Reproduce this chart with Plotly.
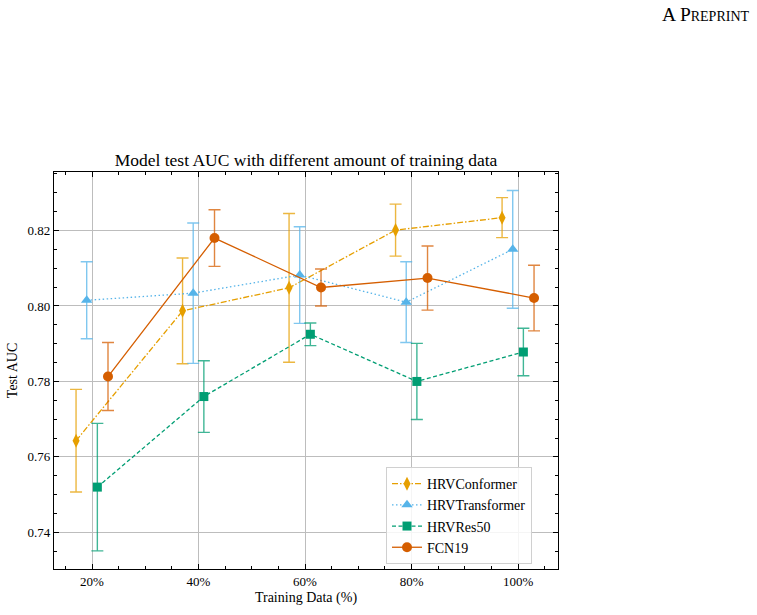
import plotly.graph_objects as go

training_pct = [20, 40, 60, 80, 100]
tick_vals = [20, 40, 60, 80, 100]
tick_text = ["20%", "40%", "60%", "80%", "100%"]

series_names = ["HRVConformer", "HRVTransformer", "HRVRes50", "FCN19"]
conformer_auc = [0.7643, 0.7987, 0.8048, 0.8201, 0.8234]
conformer_err = [0.0136, 0.0140, 0.0197, 0.0069, 0.0053]
transformer_auc = [0.8015, 0.8034, 0.8082, 0.8010, 0.8150]
transformer_err = [0.0102, 0.0186, 0.0128, 0.0107, 0.0156]
res50_auc = [0.7520, 0.7760, 0.7925, 0.7800, 0.7878]
res50_err = [0.0169, 0.0095, 0.0030, 0.0101, 0.0063]
fcn19_auc = [0.7813, 0.8180, 0.8049, 0.8074, 0.8021]
fcn19_err = [0.0090, 0.0075, 0.0049, 0.0085, 0.0087]

FONT = "Liberation Serif"

styles = [
    dict(color="#E69F00", err="rgba(230,159,0,0.75)", dash="6px,2px,1.5px,2px", symbol="diamond-tall", off=-3, size=10),
    dict(color="#56B4E9", err="rgba(86,180,233,0.75)", dash="1.5px,2.5px", symbol="triangle-up", off=-1, size=10),
    dict(color="#009E73", err="rgba(0,158,115,0.75)", dash="4px,2.5px", symbol="square", off=1, size=9),
    dict(color="#D55E00", err="rgba(213,94,0,0.75)", dash="solid", symbol="circle", off=3, size=10),
]
values = [conformer_auc, transformer_auc, res50_auc, fcn19_auc]
errors = [conformer_err, transformer_err, res50_err, fcn19_err]

fig = go.Figure()
for name, st, vals, errs in zip(series_names, styles, values, errors):
    fig.add_trace(go.Scatter(
        x=[p + st["off"] for p in training_pct],
        y=vals,
        name=name,
        mode="lines+markers",
        line=dict(color=st["color"], width=1.3, dash=st["dash"]),
        marker=dict(color=st["color"], symbol=st["symbol"], size=st["size"], line=dict(width=0)),
        error_y=dict(type="data", array=errs, visible=True, color=st["err"], thickness=1.4, width=6),
    ))

axis_common = dict(
    showline=True, linecolor="black", linewidth=1.2, mirror="allticks",
    ticks="inside", ticklen=5, tickwidth=1, tickcolor="black",
    showgrid=True, gridcolor="#bdbdbd", gridwidth=1, zeroline=False,
    tickfont=dict(family=FONT, size=13, color="black"),
)

fig.update_xaxes(
    range=[12.86, 107.5], tickvals=tick_vals, ticktext=tick_text,
    minor=dict(dtick=5, tick0=0, ticks="inside", ticklen=3, tickcolor="black", showgrid=False),
    title=dict(text="Training Data (%)", font=dict(family=FONT, size=14, color="black"), standoff=4),
    **axis_common,
)
fig.update_yaxes(
    range=[0.7303, 0.8355], dtick=0.02, tick0=0.74, tickformat=".2f",
    minor=dict(dtick=0.005, tick0=0.74, ticks="inside", ticklen=3, tickcolor="black", showgrid=False),
    title=dict(text="Test AUC", font=dict(family=FONT, size=14, color="black"), standoff=6),
    **axis_common,
)

fig.update_layout(
    width=757, height=615,
    margin=dict(l=54, r=199, t=172, b=42),
    paper_bgcolor="white", plot_bgcolor="white",
    font=dict(family=FONT, color="black"),
    title=dict(text="Model test AUC with different amount of training data",
               x=(54 + 558) / 2 / 757, xanchor="center", y=1 - 160 / 615, yanchor="middle",
               font=dict(family=FONT, size=17.5, color="black")),
    legend=dict(x=(532 - 54) / 504, y=(573 - 568) / 401, xanchor="right", yanchor="bottom",
                bgcolor="rgba(255,255,255,0.85)", bordercolor="#d0d0d0", borderwidth=1,
                font=dict(family=FONT, size=14, color="black"),
                itemwidth=30, tracegroupgap=0),
    showlegend=True,
    annotations=[dict(
        text="A P<span style='font-size:14px'>REPRINT</span>",
        xref="paper", yref="paper", x=(752 - 54) / 504, y=1 + (172 - 13) / 401,
        xanchor="right", yanchor="middle", showarrow=False,
        font=dict(family=FONT, size=19.5, color="black"),
    )],
)

fig.write_html("out.html")
